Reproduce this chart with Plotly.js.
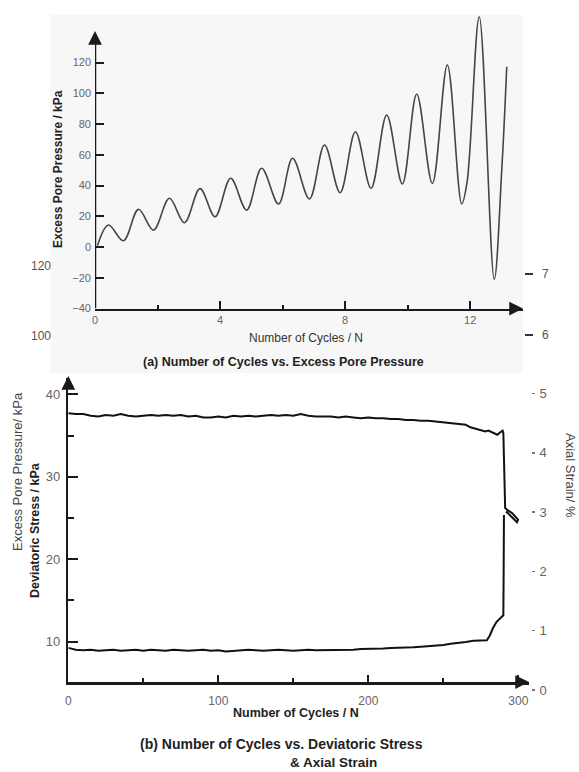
<!DOCTYPE html>
<html>
<head>
<meta charset="utf-8">
<script src="https://cdn.plot.ly/plotly-3.0.1.min.js"></script>
<style>html,body{margin:0;padding:0;background:#fff;}#chart{width:579px;height:772px;}</style>
</head>
<body>
<div id="chart"></div>
<script>
// ---------- (a) Number of cycles vs excess pore pressure ----------
const cyclesA = [0.08, 0.43, 0.91, 1.39, 1.87, 2.38, 2.86, 3.36, 3.84, 4.34, 4.85, 5.33, 5.87, 6.32, 6.86, 7.34, 7.84, 8.33, 8.83, 9.33, 9.83, 10.29, 10.79, 11.27, 11.73, 11.9, 12.29, 12.77, 13.01, 13.17];
const poreA   = [1, 14.3, 4.1, 24.5, 11, 31.7, 15.8, 38, 19.7, 44.7, 24, 51.2, 28, 57.7, 31.2, 66.3, 35.3, 75, 38.2, 85.9, 41, 99.5, 41.4, 118.4, 28, 42, 149.8, -21, 50, 117.3];
const ticksA_y = [-40, -20, 0, 20, 40, 60, 80, 100, 120];

// ---------- (b) Number of cycles vs deviatoric stress & axial strain ----------
const cyclesStress = [0,5,10,15,20,25,30,35,40,45,50,55,60,65,70,75,80,85,90,95,100,105,110,115,120,125,130,135,140,145,150,155,160,165,170,175,180,185,190,195,200,205,210,215,220,225,230,235,240,245,250,255,260,265,268,272,275,278,280,283,286,288,289.5,290,290.4,290.8,291.2,292.5,295.8,299.8,299.1,295.8,291.8];
const devStress    = [37.7,37.6,37.6,37.4,37.3,37.5,37.4,37.6,37.4,37.3,37.4,37.5,37.4,37.5,37.4,37.5,37.3,37.4,37.2,37.2,37.3,37.2,37.4,37.3,37.4,37.3,37.4,37.5,37.4,37.5,37.4,37.6,37.4,37.3,37.3,37.3,37.2,37.3,37.2,37.1,37.2,37.1,37.1,37.0,37.0,36.9,36.9,36.8,36.8,36.7,36.6,36.5,36.4,36.3,36.0,35.8,35.6,35.5,35.6,35.3,35.1,35.4,35.6,35.3,31.0,27.5,26.2,26.0,25.6,24.8,24.5,25.1,25.8];

const cyclesStrain = [0,5,10,15,20,25,30,35,40,45,50,55,60,65,70,75,80,85,90,95,100,105,110,115,120,125,130,135,140,145,150,155,160,165,170,175,180,185,190,195,200,205,210,215,220,225,230,235,240,245,250,255,260,265,270,275,279,281,283,285.5,288,290,290.2,290.4];
const axialStrain  = [0.71,0.68,0.67,0.68,0.66,0.67,0.68,0.66,0.67,0.68,0.66,0.68,0.67,0.66,0.68,0.67,0.66,0.67,0.68,0.66,0.67,0.65,0.66,0.67,0.68,0.67,0.66,0.67,0.68,0.67,0.66,0.67,0.68,0.67,0.67,0.68,0.68,0.67,0.68,0.69,0.69,0.70,0.70,0.71,0.71,0.72,0.72,0.73,0.74,0.74,0.76,0.78,0.79,0.81,0.83,0.83,0.84,0.92,1.04,1.15,1.22,1.26,2.0,2.95];

const FONT = 'Liberation Sans, Arial, sans-serif';
const W = 579, H = 772;
const px = v => v / W;
const py = v => 1 - v / H;

const traces = [
  {x: cyclesA, y: poreA, type: 'scatter', mode: 'lines', xaxis: 'x', yaxis: 'y',
   line: {color: '#454545', width: 1.6, shape: 'spline', smoothing: 1}, hoverinfo: 'skip'},
  {x: cyclesStress, y: devStress, type: 'scatter', mode: 'lines', xaxis: 'x2', yaxis: 'y2',
   line: {color: '#111', width: 2}, hoverinfo: 'skip'},
  {x: cyclesStrain, y: axialStrain, type: 'scatter', mode: 'lines', xaxis: 'x2', yaxis: 'y3',
   line: {color: '#111', width: 2}, hoverinfo: 'skip'}
];

function txt(text, x, y, size, opts) {
  return Object.assign({text: text, xref: 'paper', yref: 'paper', x: px(x), y: py(y),
    showarrow: false, xanchor: 'center', yanchor: 'middle',
    font: {family: FONT, size: size, color: '#222'}}, opts || {});
}
function arrowHead(x, y, ax, ay) {
  return {text: '', xref: 'paper', yref: 'paper', x: px(x), y: py(y), ax: ax, ay: ay,
    showarrow: true, arrowhead: 2, arrowsize: 1.1, arrowwidth: 2.5, arrowcolor: '#1a1a1a', standoff: 0};
}

const annotations = [
  // panel (a)
  txt('<b>Excess Pore Pressure / kPa</b>', 58, 169, 12, {textangle: -90}),
  txt('Number of Cycles / N', 306, 338, 12, {font: {family: FONT, size: 12, color: '#333'}}),
  txt('<b>(a) Number of Cycles vs. Excess Pore Pressure</b>', 283, 362, 12.5),
  txt('120', 41, 266, 12, {font: {family: FONT, size: 12, color: '#555'}}),
  txt('100', 41, 336, 12, {font: {family: FONT, size: 12, color: '#555'}}),
  txt('7', 540, 274, 12, {xanchor: 'left', font: {family: FONT, size: 12, color: '#555'}}),
  txt('6', 540, 335, 12, {xanchor: 'left', font: {family: FONT, size: 12, color: '#555'}}),
  arrowHead(95, 31, 0, 14),
  arrowHead(523, 308.5, -14, 0),
  // panel (b)
  txt('Excess Pore Pressure/ kPa', 18, 472, 13, {textangle: -90, font: {family: FONT, size: 13, color: '#444'}}),
  txt('<b>Deviatoric Stress / kPa</b>', 35, 530, 12.5, {textangle: -90}),
  txt('Axial Strain/ %', 571, 475, 13, {textangle: 90, font: {family: FONT, size: 13, color: '#444'}}),
  txt('<b>Number of Cycles / N</b>', 296, 713, 12.5),
  txt('<b>(b) Number of Cycles vs. Deviatoric Stress</b>', 281, 744, 14),
  txt('<b>& Axial Strain</b>', 333, 762, 13.5),
  arrowHead(68.3, 376, 0, 14),
  arrowHead(529, 682, -14, 0)
];

const shapes = [
  {type: 'rect', xref: 'paper', yref: 'paper', x0: px(50), x1: px(523), y0: py(373), y1: py(15),
   fillcolor: '#f7f7f7', line: {width: 0}, layer: 'below'},
  {type: 'line', xref: 'x', yref: 'y', x0: 0, x1: 0, y0: -40, y1: 136,
   line: {color: '#1a1a1a', width: 2.5}},
  {type: 'line', xref: 'paper', yref: 'paper', x0: px(525), x1: px(533), y0: py(274), y1: py(274),
   line: {color: '#333', width: 2}},
  {type: 'line', xref: 'paper', yref: 'paper', x0: px(525), x1: px(533), y0: py(335), y1: py(335),
   line: {color: '#333', width: 2}}
];

const tickStyle = {showgrid: false, zeroline: false, ticks: 'inside', tickwidth: 2, tickcolor: '#1a1a1a'};

const layout = {
  width: W, height: H,
  margin: {l: 0, r: 0, t: 0, b: 0},
  paper_bgcolor: '#fff', plot_bgcolor: 'rgba(0,0,0,0)',
  showlegend: false,
  font: {family: FONT},
  xaxis: Object.assign({}, tickStyle, {
    domain: [px(95), px(523)], range: [0, 13.69], anchor: 'y',
    showline: true, linecolor: '#1a1a1a', linewidth: 2.5,
    tickmode: 'linear', tick0: 0, dtick: 4, ticklen: 8,
    minor: {ticks: 'inside', dtick: 2, tick0: 0, ticklen: 4, tickwidth: 2, tickcolor: '#1a1a1a'},
    tickfont: {family: FONT, size: 11, color: '#666'}, ticklabelstandoff: 0
  }),
  yaxis: Object.assign({}, tickStyle, {
    domain: [py(308.5), py(15)], range: [-40, 150.9], anchor: 'x',
    showline: false, tickmode: 'array', tickvals: ticksA_y, ticklen: 9,
    tickfont: {family: FONT, size: 11, color: '#666'}, ticklabelstandoff: 3
  }),
  xaxis2: Object.assign({}, tickStyle, {
    domain: [px(68.3), px(529)], range: [0, 307.1], anchor: 'y2',
    showline: true, linecolor: '#1a1a1a', linewidth: 2.5,
    tickmode: 'linear', tick0: 0, dtick: 100, ticklen: 7,
    minor: {ticks: 'inside', dtick: 50, tick0: 0, ticklen: 4, tickwidth: 2, tickcolor: '#1a1a1a'},
    tickfont: {family: FONT, size: 12, color: '#666'}, ticklabelstandoff: 6
  }),
  yaxis2: Object.assign({}, tickStyle, {
    domain: [py(682), py(378)], range: [5.11, 41.98], anchor: 'x2',
    showline: true, linecolor: '#1a1a1a', linewidth: 2.5,
    tickmode: 'linear', tick0: 0, dtick: 10, ticklen: 10,
    minor: {ticks: 'inside', dtick: 5, tick0: 0, ticklen: 6, tickwidth: 2, tickcolor: '#1a1a1a'},
    tickfont: {family: FONT, size: 13, color: '#666'}, ticklabelstandoff: 3
  }),
  yaxis3: {
    domain: [py(690), py(378)], range: [0, 5.261], anchor: 'free', position: px(531), side: 'right',
    showline: false, showgrid: false, zeroline: false,
    ticks: 'outside', ticklen: 3, tickwidth: 1.5, tickcolor: '#777',
    tickmode: 'linear', tick0: 0, dtick: 1,
    tickfont: {family: FONT, size: 13, color: '#666'}, ticklabelstandoff: 2
  },
  annotations: annotations,
  shapes: shapes
};

Plotly.newPlot('chart', traces, layout, {displayModeBar: false, staticPlot: true});
</script>
</body>
</html>
